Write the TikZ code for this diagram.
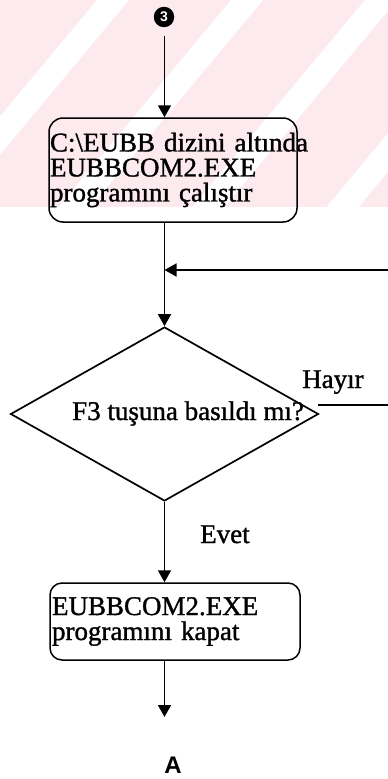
\documentclass[tikz,border=0pt]{standalone}
\usepackage{fontspec}
\setmainfont[FakeBold=1.2]{Liberation Serif}
\newfontfamily\sansA{Liberation Sans}
\usetikzlibrary{shapes.geometric,arrows.meta}
\definecolor{wmpink}{RGB}{252,234,238}
\begin{document}
\begin{tikzpicture}[x=1pt,y=-1pt,
  conn/.style={line width=1.7pt},
  arr/.style={conn,-{Triangle[width=13pt,length=12pt]}},
  procbox/.style={draw,line width=1.5pt,rounded corners=14pt,align=left,font=\fontsize{27}{25}\selectfont},
  lbl/.style={font=\fontsize{27}{25}\selectfont,inner sep=0pt}]
\useasboundingbox (0,0) rectangle (388,779);
\clip (0,0) rectangle (388,779);
% watermark band
\fill[wmpink] (0,0) rectangle (388,207);
\begin{scope}
  \clip (0,0) rectangle (388,207);
  \foreach \xc in {113,247,381,515}
    \fill[white] (\xc-16,0) -- (\xc+16,0) -- (\xc+16-250,300) -- (\xc-16-250,300) -- cycle;
\end{scope}

\coordinate (spine) at (164.5,0);
\node[circle,fill=black,inner sep=2.8pt,minimum size=20pt,text=white,
      font=\sansA\bfseries\fontsize{14}{14}\selectfont] (c3) at (164,17) {3};
\node[procbox,minimum width=248pt,minimum height=104pt,text width=246pt,inner sep=1pt] (b1) at (173,170)
  {\makebox[246pt][s]{C:\textbackslash EUBB dizini altında}\\EUBBCOM2.EXE\\programını çalıştır};
\node[draw,diamond,line width=1.7pt,minimum width=308pt,minimum height=174pt,inner sep=0pt] (d) at (164.5,414) {};
\node[lbl,anchor=base west] (q) at (72,420) {F3 tuşuna basıldı mı?};
\node[lbl,anchor=base west] (hay) at (302,388) {Hayır};
\node[lbl,anchor=base west] (evet) at (200,543) {Evet};
\node[procbox,rounded corners=12pt,minimum width=250pt,minimum height=77pt,text width=246pt,
      inner xsep=2pt,inner ysep=1pt] (b2) at (175,621.5) {EUBBCOM2.EXE\\programını kapat};
\node[font=\sansA\bfseries\fontsize{24}{24}\selectfont,inner sep=0pt] (A) at (173,765) {A};

\coordinate (join) at (164.5,270);
\coordinate (hs) at (318,405);
\coordinate (loopx) at (396,0);
\coordinate (aend) at (164.5,717);

\draw[arr] (c3.south -| spine) ++(0,9) -- (spine |- b1.north);
\draw[arr] (spine |- b1.south) -- (d.north);
\draw[arr] (hs) -| (loopx |- join) -- (join);
\draw[arr] (d.south) -- (spine |- b2.north);
\draw[arr] (spine |- b2.south) -- (aend);
\end{tikzpicture}
\end{document}
